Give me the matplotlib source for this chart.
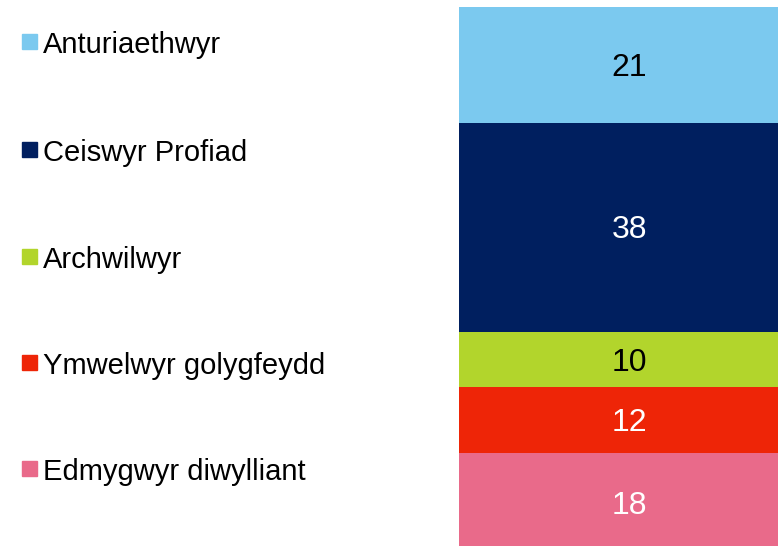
import matplotlib.pyplot as plt
from matplotlib.patches import Rectangle

plt.rcParams['font.family'] = ['Liberation Sans', 'DejaVu Sans']

categories = ['Anturiaethwyr', 'Ceiswyr Profiad', 'Archwilwyr',
              'Ymwelwyr golygfeydd', 'Edmygwyr diwylliant']
values = [21, 38, 10, 12, 18]
colors = ['#7BC9EF', '#001F5F', '#B2D52C', '#EE2507', '#E96A8A']
label_colors = ['black', 'white', 'black', 'white', 'white']

W, H = 778, 546
fig = plt.figure(figsize=(W / 100, H / 100), dpi=100)

# bar axes: starts at x=459, top y=7, runs a little past the figure edges
left, top = 459, 7
scale = 5.5  # px per unit
bottom_px = top + sum(values) * scale
ax = fig.add_axes([left / W, 1 - bottom_px / H, (800 - left) / W, (bottom_px - top) / H])

start = 0
for v, c, lc in zip(values, colors, label_colors):
    ax.bar(0, v, bottom=start, width=1, color=c, edgecolor='none')
    ax.text(0, start + v / 2, str(v), ha='center', va='center_baseline',
            fontsize=23, color=lc)
    start += v

ax.set_xlim(-0.5, 0.5)
ax.set_ylim(sum(values), 0)
ax.axis('off')

# legend on the left
legend_y = [41.5, 149, 256, 362, 468.5]
for name, c, y in zip(categories, colors, legend_y):
    fig.add_artist(Rectangle((22 / W, 1 - (y + 7.5) / H), 15 / W, 15 / H,
                             transform=fig.transFigure, color=c))
    fig.text(43 / W, 1 - (y + 1) / H, name, ha='left', va='center_baseline',
             fontsize=21, color='black')

fig.savefig('out.png', dpi=100)
